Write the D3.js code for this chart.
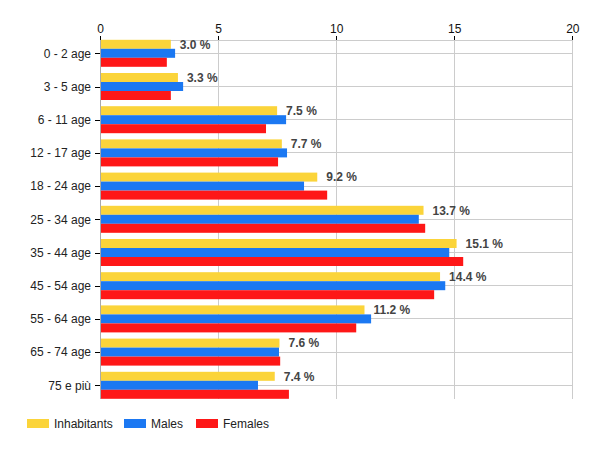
<!DOCTYPE html>
<html><head><meta charset="utf-8">
<script src="https://cdn.jsdelivr.net/npm/d3@7"></script>
<style>body{margin:0;background:#fff}svg{display:block;font-family:"Liberation Sans",Arial,sans-serif}</style>
</head><body><svg id="c" width="600" height="450"></svg>
<script>
const categories = ["0 - 2 age","3 - 5 age","6 - 11 age","12 - 17 age","18 - 24 age","25 - 34 age","35 - 44 age","45 - 54 age","55 - 64 age","65 - 74 age","75 e più"];
const inhabitants = [3.0,3.3,7.5,7.7,9.2,13.7,15.1,14.4,11.2,7.6,7.4];
const males = [3.18,3.52,7.88,7.92,8.64,13.5,14.79,14.62,11.48,7.58,6.69];
const females = [2.83,3.0,7.03,7.54,9.62,13.77,15.38,14.15,10.85,7.63,8.0];
const xTicks = [0,5,10,15,20];
const seriesNames = ["Inhabitants","Males","Females"];
const colors = ["#FBD43A","#1B78F2","#FE1717"];

const svg = d3.select("#c");
const x = d3.scaleLinear().domain([0,20]).range([100,572.3]);
const yc = d3.scalePoint().domain(categories).range([53.3,385.3]);
const barH = 9;
const plotTop = 40, plotBottom = 398.5;

// vertical grid
svg.append("g").selectAll("line").data(xTicks).join("line")
  .attr("x1",d=>x(d)).attr("x2",d=>x(d)).attr("y1",plotTop).attr("y2",plotBottom)
  .attr("stroke","#cccccc").attr("shape-rendering","crispEdges");
// horizontal grid
svg.append("g").selectAll("line").data(categories).join("line")
  .attr("x1",x(0)).attr("x2",x(20)).attr("y1",d=>yc(d)).attr("y2",d=>yc(d))
  .attr("stroke","#cccccc").attr("shape-rendering","crispEdges");
svg.append("line").attr("x1",x(0)).attr("x2",x(20)).attr("y1",plotTop).attr("y2",plotTop)
  .attr("stroke","#cccccc").attr("shape-rendering","crispEdges");

// bars
const series = [inhabitants, males, females];
series.forEach((vals,si)=>{
  svg.append("g").selectAll("rect").data(vals).join("rect")
    .attr("x",x(0)).attr("width",d=>x(d)-x(0))
    .attr("y",(d,i)=>yc(categories[i]) - 1.5*barH + si*barH)
    .attr("height",barH).attr("fill",colors[si]);
});

// y axis line
svg.append("line").attr("x1",x(0)).attr("x2",x(0)).attr("y1",plotTop).attr("y2",plotBottom)
  .attr("stroke","#aaaaaa").attr("shape-rendering","crispEdges");

// top axis
const xAxis = d3.axisTop(x).tickValues(xTicks).tickSize(4).tickPadding(3).tickFormat(d3.format("d"));
const gx = svg.append("g").attr("transform",`translate(0,${plotTop})`).call(xAxis);
gx.select(".domain").remove();
gx.selectAll(".tick line").attr("stroke","#000").attr("shape-rendering","crispEdges");
gx.selectAll(".tick text").attr("font-size",12).attr("fill","#111").attr("font-family","Liberation Sans, Arial, sans-serif");

// left axis
const yAxis = d3.axisLeft(yc).tickSize(5).tickPadding(4);
const gy = svg.append("g").attr("transform",`translate(${x(0)},0)`).call(yAxis);
gy.select(".domain").remove();
gy.selectAll(".tick line").attr("stroke","#000").attr("shape-rendering","crispEdges");
gy.selectAll(".tick text").attr("font-size",12).attr("fill","#222").attr("font-family","Liberation Sans, Arial, sans-serif");

// value labels
svg.append("g").selectAll("text").data(inhabitants).join("text")
  .attr("x",d=>x(d)+9).attr("y",(d,i)=>yc(categories[i]) - barH)
  .attr("dy","0.35em").attr("font-size",12).attr("font-weight","bold").attr("fill","#444")
  .text(d=>d.toFixed(1)+" %");

// legend
const legX = [27,124,196];
const lg = svg.append("g").selectAll("g").data(seriesNames).join("g")
  .attr("transform",(d,i)=>`translate(${legX[i]},419)`);
lg.append("rect").attr("width",22).attr("height",9).attr("fill",(d,i)=>colors[i]);
lg.append("text").attr("x",27).attr("y",4.5).attr("dy","0.35em").attr("font-size",12).attr("fill","#222").text(d=>d);
</script></body></html>
